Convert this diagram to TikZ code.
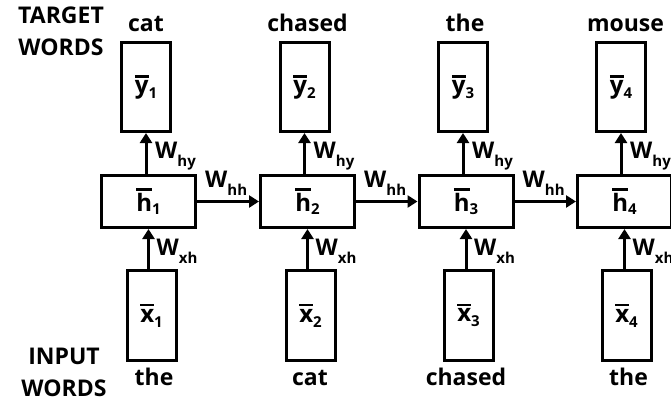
\documentclass[tikz,border=0pt]{standalone}
\usepackage{fontspec}
\setmainfont{Open Sans}
\usetikzlibrary{arrows.meta}
\newcommand\ovl[1]{\setbox0\hbox{#1}\vbox{\hrule height 2.4pt width \wd0\kern 2.5pt\box0}}
\newcommand\vlab[3]{\ovl{#1}\raisebox{-#3}{\fontsize{15}{15}\selectfont #2}}
\newcommand\wlab[1]{W\raisebox{-8pt}{\fontsize{15}{15}\selectfont #1}}
\tikzset{
  bx/.style={draw, line width=3pt, inner sep=0pt, font=\fontsize{24}{24}\selectfont\bfseries},
  ybox/.style={bx, minimum width=49pt, minimum height=89pt},
  hbox/.style={bx, minimum width=94pt, minimum height=52pt},
  xbox/.style={bx, minimum width=49pt, minimum height=90pt},
  arr/.style={line width=3pt, -{Triangle[length=10pt,width=12pt]}},
  wlabel/.style={font=\fontsize{23}{23}\selectfont\bfseries, inner sep=0pt, anchor=base west},
  word/.style={font=\fontsize{23}{23}\selectfont\bfseries, inner sep=0pt, anchor=base},
  side/.style={font=\fontsize{23}{32}\selectfont\bfseries, inner sep=0pt, align=center, anchor=base},
}
\begin{document}
\begin{tikzpicture}[x=1pt,y=-1pt]
\clip (0,0) rectangle (671,400);
\node[side] (target) at (61,55) {TARGET\\WORDS};
\node[side] (input) at (64,396) {INPUT\\WORDS};
\foreach \i/\yc/\hc/\xc/\tw/\tx/\bw/\bx in {1/146/148.5/151.5/cat/146/the/154, 2/304.5/307.5/310.5/chased/307.5/cat/310, 3/463/466/468.5/the/465/chased/466, 4/621/624.5/626.5/mouse/625.5/the/628.5}{
  \node[ybox] (y\i) at (\yc,87) {\vlab{y}{\i}{5pt}};
  \node[hbox] (h\i) at (\hc,201.5) {\vlab{h}{\i}{3pt}};
  \node[xbox] (x\i) at (\xc,315.5) {\vlab{x}{\i}{5pt}};
  \node[word] (tw\i) at (\tx,31) {\tw};
  \node[word] (bw\i) at (\bx,385) {\bw};
  \draw[arr] (h\i.north -| y\i) -- (y\i.south);
  \draw[arr] (x\i.north -| h\i) -- (h\i.south);
  \node[wlabel] (why\i) at ({\yc+9},158) {\wlab{hy}};
  \node[wlabel] (wxh\i) at ({\hc+8},255) {\wlab{xh}};
}
\foreach \i/\j/\hc in {1/2/148.5, 2/3/307.5, 3/4/466}{
  \draw[arr] (h\i.east) -- (h\j.west);
  \node[wlabel] (whh\i) at ({\hc+56.5},187) {\wlab{hh}};
}
\end{tikzpicture}
\end{document}
